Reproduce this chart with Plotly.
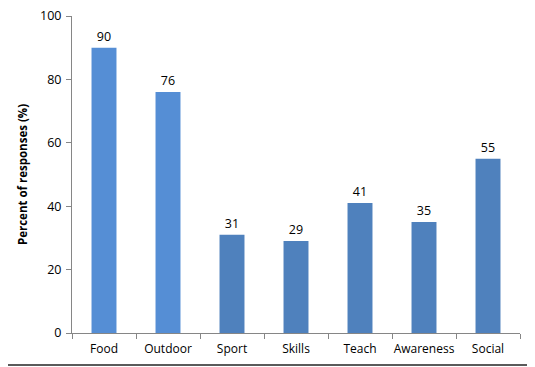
import plotly.graph_objects as go

categories = ["Food", "Outdoor", "Sport", "Skills", "Teach", "Awareness", "Social"]
values = [90, 76, 31, 29, 41, 35, 55]
colors = ["#558ED5", "#558ED5", "#4F81BD", "#4F81BD", "#4F81BD", "#4F81BD", "#4F81BD"]
y_ticks = [0, 20, 40, 60, 80, 100]

fig = go.Figure(go.Bar(
    x=categories, y=values, marker_color=colors, marker_line_width=0,
    width=0.39, text=[str(v) for v in values], textposition="outside",
    textfont=dict(size=12.5, color="#000000", family="Open Sans"), cliponaxis=False,
))

fig.update_layout(
    width=535, height=367,
    margin=dict(l=64, r=23, t=8, b=42, autoexpand=False),
    paper_bgcolor="white", plot_bgcolor="white",
    showlegend=False,
    font=dict(family="Open Sans", size=12, color="#000000"),
    xaxis=dict(showline=True, linecolor="#868686", linewidth=1, automargin=False,
               ticks="outside", tickson="boundaries", ticklen=5, tickcolor="#868686",
               tickangle=0, tickfont=dict(size=12), showgrid=False, ticklabelstandoff=5),
    yaxis=dict(range=[0, 100], tickvals=y_ticks, showline=True, linecolor="#868686",
               linewidth=1, ticks="outside", ticklen=5, tickcolor="#868686", automargin=False,
               showgrid=False, zeroline=False, tickfont=dict(size=12.5), ticklabeloverflow="allow",
               ticklabelstandoff=2,
               title=dict(text="<b>Percent of responses (%)</b>", font=dict(size=11.5), standoff=10)),
    shapes=[dict(type="line", xref="paper", yref="paper", x0=-0.2, x1=1.2,
                 y0=-0.1009, y1=-0.1009, line=dict(color="#5a5a5a", width=2))],
)

fig.write_html("out.html")
